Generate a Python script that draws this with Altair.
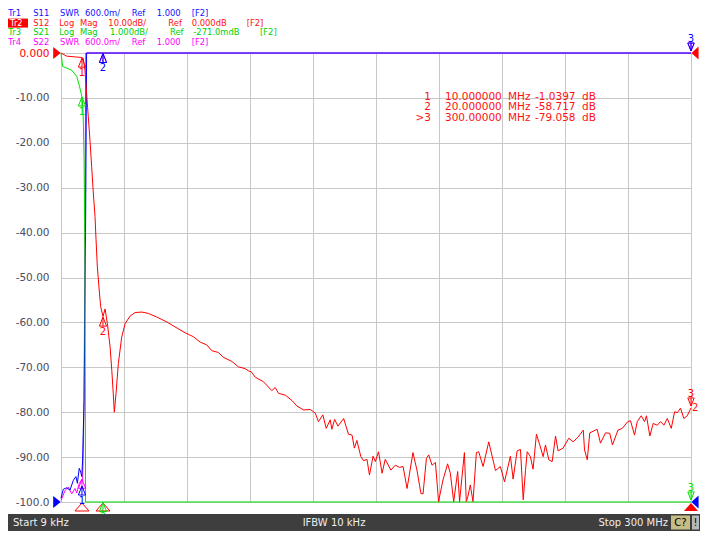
import altair as alt
import pandas as pd

START_MHZ = 0.009
STOP_MHZ = 300.0

# Tr2  S12  Log Mag (dB)
S12 = [(0.009, 0.0), (2.7, -0.7), (7.5, -0.9), (9.9, -1.0), (10.6, -1.2), (11.4, -3.8),
       (12.2, -9.0), (13.0, -14.2), (13.8, -19.4), (14.6, -25.3), (15.4, -31.2), (16.2, -36.4),
       (16.7, -41.6), (17.3, -47.5), (18.2, -52.8), (18.9, -56.5), (20.0, -58.7), (21.0, -57.0),
       (22.1, -60.3), (23.4, -65.5), (24.2, -70.7), (24.9, -75.9), (25.4, -80.0), (26.2, -75.9),
       (27.3, -69.2), (28.9, -63.3), (30.5, -60.3), (32.9, -58.6), (35.3, -57.8), (38.5, -57.7),
       (41.6, -58.0), (45.6, -58.8), (50.4, -59.9), (54.3, -61.0), (59.1, -62.3), (63.1, -63.2),
       (66.3, -64.4), (69.4, -65.0), (71.8, -66.3), (75.0, -66.7), (77.4, -67.8), (81.4, -68.7),
       (84.5, -69.9), (87.7, -70.3), (89.3, -70.8), (90.6, -71.0), (92.5, -72.2), (96.4, -73.2),
       (100.4, -75.2), (102.0, -74.5), (103.6, -75.8), (106.8, -76.2), (110.0, -77.4), (112.3, -78.6),
       (115.5, -79.5), (118.7, -79.4), (121.1, -80.2), (122.6, -82.1), (124.7, -80.6), (126.3, -83.6),
       (128.2, -81.7), (129.0, -83.8), (130.3, -81.6), (131.9, -83.1), (134.6, -81.4), (136.9, -84.9),
       (138.6, -85.1), (139.7, -88.0), (140.9, -86.3), (142.8, -89.9), (144.1, -90.8), (145.7, -90.5),
       (146.9, -94.0), (148.6, -89.8), (149.7, -91.0), (151.2, -88.8), (152.9, -93.6), (154.4, -90.5),
       (157.1, -92.9), (159.2, -91.8), (161.2, -92.3), (162.9, -92.1), (164.8, -97.0), (167.6, -89.0),
       (169.5, -92.9), (171.4, -98.1), (172.4, -98.2), (174.0, -90.3), (175.1, -89.5), (176.7, -91.8),
       (178.3, -91.2), (179.8, -99.9), (181.9, -95.1), (184.1, -91.5), (185.4, -93.6), (187.0, -99.9),
       (188.9, -93.2), (189.8, -99.9), (190.8, -95.1), (192.1, -89.0), (193.0, -99.9), (193.8, -98.7),
       (194.9, -96.2), (196.2, -99.9), (197.8, -89.0), (198.9, -88.8), (201.0, -92.1), (203.7, -86.6),
       (206.9, -93.0), (209.2, -92.1), (211.2, -95.5), (214.0, -89.8), (215.3, -94.9), (217.2, -88.6),
       (218.8, -88.3), (220.1, -99.5), (221.2, -93.0), (222.0, -88.8), (223.5, -89.9), (224.8, -92.7),
       (226.4, -84.9), (228.0, -87.3), (229.6, -89.9), (230.7, -87.3), (232.3, -90.6), (233.9, -91.0),
       (235.5, -85.3), (236.7, -88.6), (239.1, -88.0), (241.8, -85.8), (243.9, -86.6), (246.1, -85.6),
       (248.7, -84.0), (249.3, -88.4), (250.6, -90.6), (251.8, -84.6), (255.3, -83.8), (256.9, -86.9),
       (259.3, -84.6), (261.3, -84.7), (262.6, -87.3), (265.2, -84.0), (267.3, -83.6), (269.9, -82.1),
       (271.2, -81.9), (273.1, -85.1), (274.4, -82.1), (276.3, -80.8), (277.9, -82.1), (278.8, -80.8),
       (280.4, -85.3), (282.0, -82.5), (283.9, -82.9), (285.5, -82.1), (287.1, -82.9), (288.7, -81.4),
       (290.6, -83.6), (292.2, -79.9), (293.5, -80.1), (295.0, -79.1), (296.6, -81.4), (298.2, -80.8),
       (300.0, -79.058)]

# Tr3  S21  Log Mag (dB) – off the bottom of the screen above ~11.7 MHz
S21 = [(0.009, -0.27), (0.8, -0.57), (5.0, -0.65), (7.5, -0.79), (8.8, -1.01), (9.9, -1.23),
       (10.4, -1.46), (10.7, -1.90), (11.0, -2.65), (11.4, -4.77), (11.7, -10.27), (300.0, -10.27)]

# Tr1  S11  SWR – off the top of the screen above ~12 MHz
S11 = [(0.009, 1.05), (1.1, 1.17), (2.7, 1.19), (4.3, 1.16), (5.9, 1.29), (7.1, 1.34), (7.8, 1.25),
       (8.7, 1.45), (9.4, 1.40), (9.9, 1.34), (10.3, 1.56), (10.6, 1.92), (11.0, 2.36), (11.7, 4.60),
       (12.2, 7.0), (300.0, 7.0)]

# Tr4  S22  SWR
S22 = [(0.009, 1.02), (1.9, 1.15), (3.5, 1.20), (5.1, 1.11), (6.7, 1.18), (7.5, 1.12), (8.7, 1.25),
       (9.9, 1.30), (10.3, 1.27), (10.6, 1.69), (11.0, 2.36), (11.4, 4.60), (11.8, 7.0), (300.0, 7.0)]

MARKER_MHZ = [10.0, 20.0, 300.0]
MARKER_VALUES = {
    "S22": [1.31, 7.0, 7.0],
    "S11": [1.22, 7.0, 7.0],
    "S21": [-1.24, -10.27, -10.27],
    "S12": [-1.0397, -58.717, -79.058],
}
ACTIVE_MARKER = 3

READOUT_NUM = ["1", "2", ">3"]
READOUT_FREQ = ["10.000000", "20.000000", "300.00000"]
READOUT_VAL = ["-1.0397", "-58.717", "-79.058"]

Y_TICKS = [0, -10, -20, -30, -40, -50, -60, -70, -80, -90, -100]
Y_TICK_LABELS = ["0.000", "-10.00", "-20.00", "-30.00", "-40.00", "-50.00",
                 "-60.00", "-70.00", "-80.00", "-90.00", "-100.0"]

HEADER = [
    ["Tr1", "S11", "SWR", "600.0m/", "Ref", "1.000", "[F2]"],
    ["Tr2", "S12", "Log", "Mag", "10.00dB/", "Ref", "0.000dB", "[F2]"],
    ["Tr3", "S21", "Log", "Mag", "1.000dB/", "Ref", "-271.0mdB", "[F2]"],
    ["Tr4", "S22", "SWR", "600.0m/", "Ref", "1.000", "[F2]"],
]
STATUS = ["Start 9 kHz", "IFBW 10 kHz", "Stop 300 MHz", "C?", "!"]

# trace formats: (reference value, per-division, reference position in grid units)
FORMATS = {"S11": (1.0, 0.6, -100), "S12": (0.0, 10.0, 0), "S21": (-0.271, 1.0, 0), "S22": (1.0, 0.6, -100)}

# ---------------- styling / layout ----------------
FONT = "DejaVu Sans"
COLORS = {"S11": "#0000ff", "S12": "#ff0000", "S21": "#00e000", "S22": "#ff00ff"}
TEXT_COLORS = {"S11": "#1010ff", "S12": "#ff1010", "S21": "#00d000", "S22": "#ff00ff"}
TRACE_ORDER = ["S22", "S11", "S21", "S12"]
HEADER_TRACE = ["S11", "S12", "S21", "S22"]
X0, Y0 = 61, 53          # page position of the plot origin
W, H = 630, 449

DISP = "clamp(datum.refpos + (datum.v - datum.ref) / datum.per * 10, -100, 0)"

rows = []
for name, series in [("S12", S12), ("S21", S21), ("S11", S11), ("S22", S22)]:
    ref, per, refpos = FORMATS[name]
    for f, v in series:
        rows.append({"tr": name, "f": f, "v": v, "ref": ref, "per": per, "refpos": refpos})
traces = pd.DataFrame(rows)

mrows = []
for name in TRACE_ORDER:
    ref, per, refpos = FORMATS[name]
    for i, (f, v) in enumerate(zip(MARKER_MHZ, MARKER_VALUES[name])):
        mrows.append({"tr": name, "num": str(i + 1), "f": f, "v": v, "ref": ref, "per": per,
                      "refpos": refpos, "active": (i + 1) == ACTIVE_MARKER})
markers = pd.DataFrame(mrows)

xgrid = [START_MHZ + k * (STOP_MHZ - START_MHZ) / 10 for k in range(11)]
label_expr = " : ".join(f"datum.value == {v} ? '{s}'" for v, s in zip(Y_TICKS, Y_TICK_LABELS)) + " : ''"

X_ENC = alt.X("f:Q", scale=alt.Scale(domain=[START_MHZ, STOP_MHZ], nice=False, zero=False),
              axis=alt.Axis(values=xgrid, labels=False, ticks=False, domain=False, title=None,
                            grid=True, gridColor="#c8c8c8", gridWidth=1))
Y_ENC = alt.Y("disp:Q", scale=alt.Scale(domain=[-100, 0], nice=False, zero=False),
              axis=alt.Axis(values=Y_TICKS, labelExpr=label_expr, title=None, grid=True,
                            gridColor="#c8c8c8", gridWidth=1, domain=False, ticks=False, tickSize=0,
                            labelPadding=12, labelFont=FONT, labelFontSize=10.5,
                            labelColor={"condition": {"test": "datum.value == 0", "value": "#ff0000"},
                                        "value": "#4c4c5c"}))
C_ENC = alt.Color("tr:N", scale=alt.Scale(domain=list(COLORS.keys()), range=list(COLORS.values())),
                  legend=None)

layers = []
for name in TRACE_ORDER:
    layers.append(
        alt.Chart(traces).transform_filter(f"datum.tr == '{name}'")
        .transform_calculate(disp=DISP)
        .mark_line(color=COLORS[name], strokeWidth=1)
        .encode(x=X_ENC, y=Y_ENC)
    )

UP_PATH = "M0,-1L0.8,1L-0.8,1ZM0,-1L0,1"
DOWN_PATH = "M0,1L0.8,-1L-0.8,-1ZM0,1L0,-1"
STIM_PATH = "M0,-0.57L1,0.57L-1,0.57Z"
RIGHT_PATH = "M-0.62,-1L0.62,0L-0.62,1Z"
LEFT_PATH = "M0.55,-1L-0.55,0L0.55,1Z"

mk = alt.Chart(markers).transform_calculate(disp=DISP)
# numbers of Tr4 markers are hidden under those of Tr1 on the screen
mk_num = mk.transform_filter("datum.tr != 'S22'")

# stimulus indicators of the active trace (below the graticule)
stim = alt.Chart(markers).transform_filter("datum.tr == 'S12'").transform_calculate(disp="-100")
layers.append(stim.transform_filter("!datum.active").mark_point(
    shape=STIM_PATH, filled=False, size=196, strokeWidth=1, opacity=1, yOffset=5, color="#ff0000")
    .encode(x=X_ENC, y=Y_ENC))
layers.append(stim.transform_filter("datum.active").mark_point(
    shape=STIM_PATH, filled=True, size=196, opacity=1, yOffset=5, color="#ff0000")
    .encode(x=X_ENC, y=Y_ENC))

layers.append(mk.transform_filter("!datum.active").mark_point(
    shape=UP_PATH, filled=False, size=81, strokeWidth=1, opacity=1, yOffset=5)
    .encode(x=X_ENC, y=Y_ENC, color=C_ENC))
layers.append(mk_num.transform_filter("!datum.active").mark_text(
    font=FONT, fontSize=10, baseline="alphabetic", align="center", dy=18)
    .encode(x=X_ENC, y=Y_ENC, color=C_ENC, text="num:N"))
layers.append(mk.transform_filter("datum.active").mark_point(
    shape=DOWN_PATH, filled=False, size=64, strokeWidth=1, opacity=1, yOffset=-6)
    .encode(x=X_ENC, y=Y_ENC, color=C_ENC))
layers.append(mk_num.transform_filter("datum.active").mark_text(
    font=FONT, fontSize=10, baseline="alphabetic", align="center", dy=-11)
    .encode(x=X_ENC, y=Y_ENC, color=C_ENC, text="num:N"))

# reference-position arrows
refs = pd.DataFrame([
    {"f": START_MHZ, "disp": FORMATS["S12"][2], "tr": "S12", "side": "L"},
    {"f": START_MHZ, "disp": FORMATS["S11"][2], "tr": "S11", "side": "L"},
    {"f": STOP_MHZ, "disp": FORMATS["S12"][2], "tr": "S12", "side": "R"},
    {"f": STOP_MHZ, "disp": FORMATS["S11"][2], "tr": "S11", "side": "R"},
])
layers.append(alt.Chart(refs).transform_filter("datum.side == 'L'").mark_point(
    shape=RIGHT_PATH, filled=True, size=150, opacity=1, xOffset=-4)
    .encode(x=X_ENC, y=Y_ENC, color=C_ENC))
layers.append(alt.Chart(refs).transform_filter("datum.side == 'R'").mark_point(
    shape=LEFT_PATH, filled=True, size=170, opacity=1, xOffset=4)
    .encode(x=X_ENC, y=Y_ENC, color=C_ENC))

ONE = pd.DataFrame({"k": [0]})


def ptext(s, px, py, color, size=10.5, align="left"):
    return alt.Chart(ONE).mark_text(align=align, baseline="alphabetic", font=FONT,
                                    fontSize=size, color=color).encode(
        x=alt.value(px - X0), y=alt.value(py - Y0), text=alt.value(s))


def prect(x1, x2, y1, y2, color):
    return alt.Chart(ONE).mark_rect(color=color).encode(
        x=alt.value(x1 - X0), x2=alt.value(x2 - X0), y=alt.value(y1 - Y0), y2=alt.value(y2 - Y0))


# header lines
HEADER_X = [
    [8.3, 33.3, 60, 85, 131.7, 156.7, 191.7],
    [10, 33.3, 59.3, 80, 108.3, 168.3, 191.7, 246.7],
    [8.3, 33.3, 59.3, 80, 110, 170, 193.3, 260],
    [8.3, 33.3, 60, 85, 131.7, 156.7, 191.7],
]
HEADER_BASE = [16.0, 25.6, 35.2, 44.8]
HEADER_SIZE = 8.4
layers.append(prect(8, 28, 18.6, 27.6, "#ff0000"))
for li, words in enumerate(HEADER):
    col = TEXT_COLORS[HEADER_TRACE[li]]
    for wi, w in enumerate(words):
        c = "#ffffff" if (li == 1 and wi == 0) else col
        layers.append(ptext(w, HEADER_X[li][wi], HEADER_BASE[li], c, size=HEADER_SIZE))

# marker readout table
READ_BASE = [99.5, 110.3, 121.1]
for i in range(3):
    layers.append(ptext(READOUT_NUM[i], 431, READ_BASE[i], "#ff1010", align="right"))
    layers.append(ptext(READOUT_FREQ[i], 445, READ_BASE[i], "#ff1010"))
    layers.append(ptext("MHz", 508, READ_BASE[i], "#ff1010"))
    layers.append(ptext(READOUT_VAL[i], 535, READ_BASE[i], "#ff1010"))
    layers.append(ptext("dB", 582, READ_BASE[i], "#ff1010"))

layers.append(ptext("2", 692, 410.5, "#ff1010", size=10))

# status bar
layers.append(prect(8, 700, 514, 531, "#3e3e3e"))
layers.append(prect(671, 690, 515.5, 529.5, "#c4bc84"))
layers.append(prect(692, 699, 515.5, 529.5, "#b8b8b8"))
layers.append(ptext(STATUS[0], 13, 526, "#eeeeee", size=10))
layers.append(ptext(STATUS[1], 334, 526, "#eeeeee", size=10, align="center"))
layers.append(ptext(STATUS[2], 668, 526, "#eeeeee", size=10, align="right"))
layers.append(ptext(STATUS[3], 680.5, 526, "#000000", size=10, align="center"))
layers.append(ptext(STATUS[4], 695.5, 526, "#000000", size=10, align="center"))

chart = alt.layer(*layers).properties(
    width=W, height=H,
    padding={"left": X0 - 8, "top": Y0 - 8, "right": 9, "bottom": 531 - (Y0 + H)},
    autosize=alt.AutoSizeParams(type="none"),
    background="#ffffff",
).configure_view(stroke="#808080", strokeWidth=1)

chart.save("out.html", embed_options={"renderer": "svg", "actions": False})
